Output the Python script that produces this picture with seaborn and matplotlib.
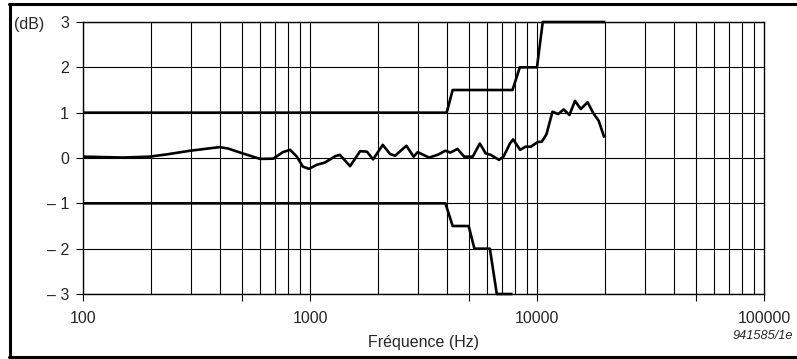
import numpy as np
import pandas as pd
import matplotlib
matplotlib.use("Agg")
import matplotlib.pyplot as plt
import seaborn as sns
from matplotlib.ticker import FixedLocator, NullFormatter, NullLocator
from matplotlib.lines import Line2D

# ---- data ----
resp_freq = [100, 150, 197, 234, 296, 400, 435, 506, 603, 689, 760, 817, 875, 930, 990,
             1070, 1164, 1291, 1354, 1502, 1662, 1782, 1896, 2092, 2250, 2371, 2658, 2860,
             2982, 3343, 3650, 3950, 4158, 4460, 4780, 5210, 5600, 5940, 6250, 6800, 7120,
             7600, 7850, 8430, 8900, 9400, 10060, 10500, 11000, 11700, 12400, 13100, 13900,
             14700, 15600, 16700, 17700, 18700, 19800]
resp_db = [0.03, 0.01, 0.03, 0.08, 0.16, 0.24, 0.21, 0.10, -0.02, -0.015, 0.13, 0.18, 0.03,
           -0.19, -0.24, -0.15, -0.10, 0.04, 0.07, -0.18, 0.15, 0.14, -0.03, 0.29, 0.09, 0.05,
           0.27, 0.03, 0.13, 0.01, 0.07, 0.16, 0.12, 0.20, 0.03, 0.03, 0.32, 0.10, 0.07, -0.04,
           0.03, 0.32, 0.41, 0.18, 0.25, 0.25, 0.35, 0.36, 0.52, 1.02, 0.97, 1.07, 0.95, 1.26,
           1.08, 1.23, 0.99, 0.82, 0.45]

upper_freq = [100, 4000, 4250, 7800, 8400, 10000, 10600, 20000]
upper_db = [1, 1, 1.5, 1.5, 2, 2, 3, 3]
lower_freq = [100, 3950, 4250, 5000, 5300, 6200, 6650, 7800]
lower_db = [-1, -1, -1.5, -1.5, -2, -2, -3, -3]

y_ticks = [3, 2, 1, 0, -1, -2, -3]
y_labels = ["3", "2", "1", "0", "\u2013 1", "\u2013 2", "\u2013 3"]
x_ticks = [100, 1000, 10000, 100000]
x_labels = ["100", "1000", "10000", "100000"]
x_title = "Fréquence (Hz)"
y_unit = "(dB)"
ref_code = "941585/1e"

# ---- style ----
sns.set_style("white")
plt.rcParams["font.family"] = ["Liberation Sans", "DejaVu Sans"]

fig = plt.figure(figsize=(7.97, 3.59), dpi=100)
W, H = 797, 359
ax = fig.add_axes([83 / W, 1 - 294 / H, (764 - 83) / W, (294 - 22) / H])

resp = pd.DataFrame({"f": resp_freq, "db": resp_db})
up = pd.DataFrame({"f": upper_freq, "db": upper_db})
lo = pd.DataFrame({"f": lower_freq, "db": lower_db})

lw = 1.9
line_kw = dict(color="black", lw=lw, sort=False, solid_joinstyle="round",
               solid_capstyle="butt")
sns.lineplot(data=resp, x="f", y="db", ax=ax, **line_kw)
sns.lineplot(data=up, x="f", y="db", ax=ax, clip_on=False, **line_kw)
sns.lineplot(data=lo, x="f", y="db", ax=ax, clip_on=False, **line_kw)

ax.set_xscale("log")
ax.set_xlim(100, 100000)
ax.set_ylim(-3, 3)

# grid
grid_x = [m * 10 ** d for d in range(2, 5) for m in range(1, 10)]
for gx in grid_x:
    ax.axvline(gx, color="black", lw=0.8, zorder=0)
for gy in y_ticks:
    ax.axhline(gy, color="black", lw=0.8, zorder=0)

ax.xaxis.set_major_locator(FixedLocator(x_ticks))
ax.set_xticklabels(x_labels)
ax.xaxis.set_minor_locator(FixedLocator([500, 5000, 50000]))
ax.xaxis.set_minor_formatter(NullFormatter())
ax.set_yticks(y_ticks)
ax.set_yticklabels(y_labels)
ax.yaxis.set_minor_locator(NullLocator())

ax.tick_params(axis="x", which="both", direction="out", length=5, width=0.8,
               color="black", pad=7, labelsize=11.5, bottom=True)
ax.tick_params(axis="y", which="major", direction="out", length=5, width=0.8,
               color="black", pad=5, labelsize=11.5, left=True)

for s in ax.spines.values():
    s.set_visible(True)
    s.set_color("black")
    s.set_linewidth(1.0)

ax.set_xlabel("")
ax.set_ylabel("")

fig.text(423 / W, 1 - 342 / H, x_title, ha="center", va="center", fontsize=11.5)
fig.text(14 / W, 1 - 25 / H, y_unit, ha="left", va="center", fontsize=11.5)
fig.text(793 / W, 1 - 336 / H, ref_code, ha="right", va="center", fontsize=9.2,
         style="italic")

# outer frame
frame_kw = dict(color="black", lw=2.2, transform=fig.transFigure)
fig.add_artist(Line2D([10 / W, 10 / W], [1 - 4 / H, 1 - 357 / H], **frame_kw))
fig.add_artist(Line2D([9 / W, 1.0], [1 - 4 / H, 1 - 4 / H], **frame_kw))
fig.add_artist(Line2D([9 / W, 1.0], [1 - 357 / H, 1 - 357 / H], **frame_kw))

fig.savefig("out.png", dpi=100)
